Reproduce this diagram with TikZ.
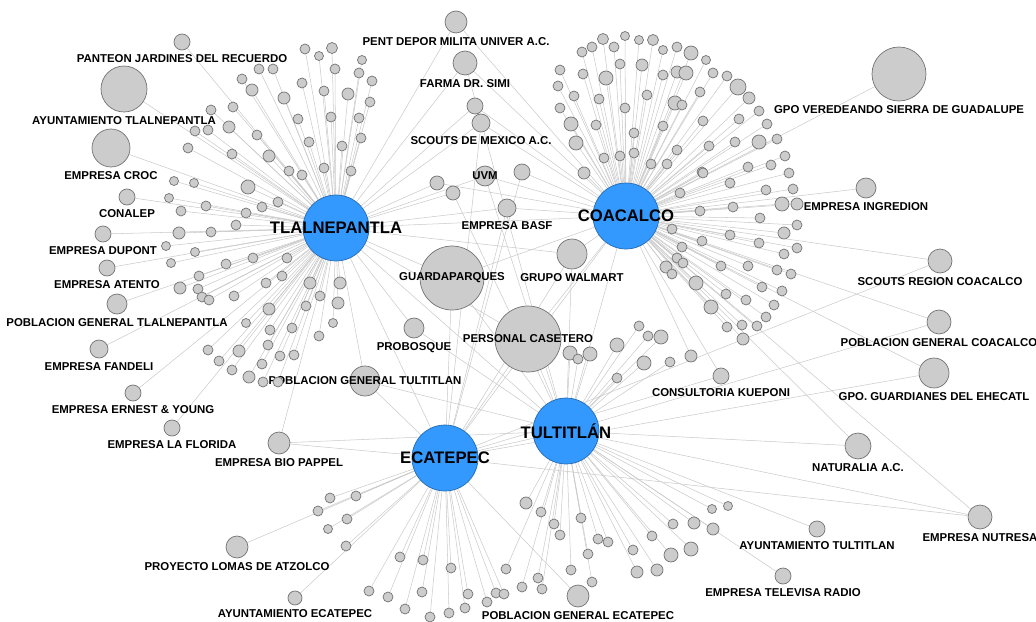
\documentclass[tikz,border=0pt]{standalone}
\usepackage{fontspec}
\setmainfont{Liberation Sans}
\usetikzlibrary{backgrounds}
\definecolor{hubblue}{RGB}{51,153,255}
\definecolor{nodegray}{RGB}{204,204,204}
\definecolor{rimgray}{RGB}{115,115,115}
\definecolor{edgegray}{RGB}{202,202,202}

% named actors: name/x/y/radius/label position/text/linked municipalities
\def\actorlist{
  pant/182/42/8/below/{PANTEON JARDINES DEL RECUERDO}/{tlal},
  aytl/124/89/23/below/{AYUNTAMIENTO TLALNEPANTLA}/{tlal},
  croc/111/148/19/below/{EMPRESA CROC}/{tlal},
  conal/127/197/8/below/{CONALEP}/{tlal},
  dupo/103/234/8/below/{EMPRESA DUPONT}/{tlal},
  aten/107/268/8/below/{EMPRESA ATENTO}/{tlal},
  pgtl/117/304/10/below/{POBLACION GENERAL TLALNEPANTLA}/{tlal},
  fand/99/349/9/below/{EMPRESA FANDELI}/{tlal},
  erne/133/393/8/below/{EMPRESA ERNEST \& YOUNG}/{tlal},
  flor/172/428/8/below/{EMPRESA LA FLORIDA}/{tlal},
  biop/279/443/11/below/{EMPRESA BIO PAPPEL}/{tlal,ecat,tult},
  lomas/237/547/11/below/{PROYECTO LOMAS DE ATZOLCO}/{ecat},
  ayec/295/598/7/below/{AYUNTAMIENTO ECATEPEC}/{ecat},
  pgec/578/596/11/below/{POBLACION GENERAL ECATEPEC}/{ecat},
  tele/783/576/8/below/{EMPRESA TELEVISA RADIO}/{tult},
  aytu/817/529/8/below/{AYUNTAMIENTO TULTITLAN}/{tult},
  nutr/980/517/12/below/{EMPRESA NUTRESA}/{tult,ecat,coac},
  natu/858/446/13/below/{NATURALIA A.C.}/{tult,coac},
  guar/934/373/15/below/{GPO. GUARDIANES DEL EHECATL}/{ecat,coac},
  pgco/939/322/12/below/{POBLACION GENERAL COACALCO}/{coac,tult},
  scrc/940/261/12/below/{SCOUTS REGION COACALCO}/{coac,ecat},
  ingr/866/188/10/below/{EMPRESA INGREDION}/{coac},
  vere/899/74/27/below/{GPO VEREDEANDO SIERRA DE GUADALUPE}/{coac},
  kuep/721/376/8/below/{CONSULTORIA KUEPONI}/{coac,ecat},
  pent/456/22/11/below/{PENT DEPOR MILITA UNIVER A.C.}/{tlal,coac},
  simi/465/63/12/below/{FARMA DR. SIMI}/{tlal,coac,tult},
  scmx/481/123/9/below/{SCOUTS DE MEXICO A.C.}/{tlal,coac,ecat},
  uvm/485/176/10/center/{UVM}/{tlal,coac,tult},
  basf/507/208/9/below/{EMPRESA BASF}/{tlal,coac,ecat},
  guap/452/278/32/center/{GUARDAPARQUES}/{tlal,coac,tult,ecat},
  walm/572/254/15/below/{GRUPO WALMART}/{tlal,coac,tult,ecat},
  case/528/339/33/center/{PERSONAL CASETERO}/{tlal,coac,tult,ecat},
  prob/414/328/10/below/{PROBOSQUE}/{tlal,tult},
  pgtu/365/381/15/center/{POBLACION GENERAL TULTITLAN}/{tlal,tult,ecat}}

% unnamed nodes shared by two municipalities
\def\sharedlist{437/183/7/{tlal,coac}, 453/193/7/{tlal,tult},
  522/172/8/{coac,ecat}, 475/106/8/{tlal,coac}}

% unnamed nodes of each fan: x/y/radius
\def\tlallist{305/49/5, 319/56/4.5, 332/48/5.5, 259/69/5, 273/69/5,
  335/69/5, 242/79/5, 252/90/6, 284/98/6, 302/83/5, 324/91/5, 348/94/6, 211/110/5,
  233/107/5, 298/119/5, 331/117/5, 229/127/6, 195/131/5, 208/130/5, 257/135/5,
  309/142/5, 342/146/5, 188/148/5, 232/154/5, 269/156/6, 289/171/5, 302/175/5,
  324/168/5, 174/181/4.5, 194/183/4.5, 248/187/7, 169/198/4.5, 206/206/5, 278/202/5,
  262/207/5, 362/60/4.5, 359/73/5, 372/81/5, 370/102/5, 359/118/5, 361/138/5,
  351/171/5, 181/211/5, 246/213/5, 179/233/6, 211/232/5, 236/225/5, 166/246/4.5,
  195/252/4.5, 171/263/4.5, 226/264/5, 253/258/5, 287/258/5, 199/276/5, 180/288/6,
  198/289/5, 202/297/5, 209/300/5, 234/296/5, 266/283/5, 282/276/5, 310/283/6,
  340/283/6, 269/309/6, 306/306/5, 320/296/5, 338/303/6, 246/323/4.5, 270/330/5,
  292/328/5, 333/323/4.5, 319/336/5, 208/350/5, 239/351/6, 268/345/5, 219/361/5,
  280/356/5, 294/355/5, 232/370/5, 262/364/5, 249/377/6, 263/382/5, 278/382/5}
\def\coaclist{582/52/5, 592/47/5, 603/39/5.5, 614/47/5, 625/36/4.5,
  639/40/4.5, 653/40/5.5, 663/50/4.5, 677/47/5, 560/70/5, 583/74/5, 606/78/7,
  620/64/5, 642/65/6, 663/75/5, 677/72/6, 558/86/5, 574/96/5, 599/99/5, 625/108/5,
  647/95/5, 675/103/7, 560/108/5, 571/124/7, 596/125/5, 663/126/5, 576/143/7,
  634/133/5, 604/158/5, 620/156/5, 634/153/5, 651/164/5, 667/164/5, 677/150/5,
  584/173/6, 691/53/7, 706/60/4.5, 686/73/7, 713/73/5, 727/76/5, 738/87/8,
  749/98/6, 700/92/5, 759/111/5, 682/105/5, 703/121/5, 739/119/5, 767/124/5,
  709/146/5, 735/142/5, 759/142/7, 777/139/5, 785/156/5, 702/172/5, 748/167/5,
  771/165/5, 789/173/5, 730/183/5, 766/190/5, 793/189/5, 782/204/7, 797/204/6,
  733/207/5, 703/173/5, 680/193/5, 700/211/5, 760/218/5, 797/225/5, 784/233/6,
  730/235/5, 702/241/5, 759/243/5, 797/248/5, 784/254/5, 672/229/5, 682/247/5,
  677/258/5, 683/263/5, 666/267/6, 672/274/5, 721/266/5, 748/266/5, 777/270/5,
  791/274/5, 696/283/7, 762/287/5, 782/291/5, 726/294/5, 746/300/5, 774/305/5,
  711/307/7, 766/317/5, 727/327/5, 742/325/5, 757/326/5, 743/339/6, 691/356/6}
\def\tultlist{639/326/5, 648/336/5, 661/337/7, 617/345/7,
  570/353/7, 578/359/5, 590/354/7, 644/363/7, 670/362/5, 617/378/5, 526/503/6,
  541/512/5, 554/524/5, 560/535/5, 581/518/5, 588/554/5, 598/539/5, 608/542/5,
  633/550/5, 652/536/5, 673/524/5, 671/555/7, 637/572/6, 657/570/6, 712/509/4.5,
  728/506/4.5, 694/523/6, 713/529/6, 691/549/7, 571/570/5, 592/582/5, 538/578/5,
  542/589/5, 522/587/5, 506/569/5}
\def\ecatlist{496/593/5, 504/594/5, 487/602/5, 468/594/5,
  465/608/5, 449/613/5, 451/568/5, 430/617/5, 422/592/5, 405/609/5, 423/560/5,
  400/557/5, 388/597/5, 369/591/5, 356/496/5, 347/519/5, 346/546/5, 330/498/5,
  318/511/5, 328/529/4.5}

\begin{document}
\begin{tikzpicture}[x=0.02cm,y=-0.02cm,
  hubtext/.style={font=\bfseries\fontsize{9.5}{10}\selectfont},
  hub/.style={circle,fill=hubblue,draw=hubblue!70!black,line width=0.4pt,inner sep=0pt,
    minimum size=1.32cm,label={[hubtext]center:#1}},
  dot/.style={circle,fill=nodegray,draw=rimgray,line width=0.4pt,inner sep=0pt,minimum size=#1*0.04cm},
  lab/.style={font=\bfseries\fontsize{6.5}{7}\selectfont,inner sep=0.5pt},
  label distance=1.6pt,
  edge/.style={draw=edgegray,line width=0.3pt}]
\useasboundingbox (0,0) rectangle (1036,622);

% the four municipalities
\node[hub={TLALNEPANTLA}] (tlal) at (336,228) {};
\node[hub={COACALCO}] (coac) at (626,216) {};
\node[hub={TULTITLÁN}] (tult) at (566,431) {};
\node[hub={ECATEPEC}] (ecat) at (445,458) {};

% nodes
\foreach \n/\x/\y/\r/\p/\t/\hl in \actorlist
  \node[dot=\r,label={[lab]\p:\t}] (\n) at (\x,\y) {};
\foreach \x/\y/\r/\hl [count=\i] in \sharedlist
  \node[dot=\r] (md\i) at (\x,\y) {};
\foreach \x/\y/\r [count=\i] in \tlallist
  \node[dot=\r] (tl\i) at (\x,\y) {};
\foreach \x/\y/\r [count=\i] in \coaclist
  \node[dot=\r] (co\i) at (\x,\y) {};
\foreach \x/\y/\r [count=\i] in \tultlist
  \node[dot=\r] (tu\i) at (\x,\y) {};
\foreach \x/\y/\r [count=\i] in \ecatlist
  \node[dot=\r] (ec\i) at (\x,\y) {};

% links, behind the nodes
\begin{scope}[on background layer]
\draw[edge] (tlal) -- (coac);
\draw[edge] (tlal) -- (tult);
\draw[edge] (tlal) -- (ecat);
\draw[edge] (coac) -- (tult);
\draw[edge] (coac) -- (ecat);
\draw[edge] (tult) -- (ecat);
\foreach \n/\x/\y/\r/\p/\t/\hl in \actorlist
  \foreach \h in \hl \draw[edge] (\n) -- (\h);
\foreach \x/\y/\r/\hl [count=\i] in \sharedlist
  \foreach \h in \hl \draw[edge] (md\i) -- (\h);
\foreach \x/\y/\r [count=\i] in \tlallist \draw[edge] (tlal) -- (tl\i);
\foreach \x/\y/\r [count=\i] in \coaclist \draw[edge] (coac) -- (co\i);
\foreach \x/\y/\r [count=\i] in \tultlist \draw[edge] (tult) -- (tu\i);
\foreach \x/\y/\r [count=\i] in \ecatlist \draw[edge] (ecat) -- (ec\i);
\end{scope}
\end{tikzpicture}
\end{document}
